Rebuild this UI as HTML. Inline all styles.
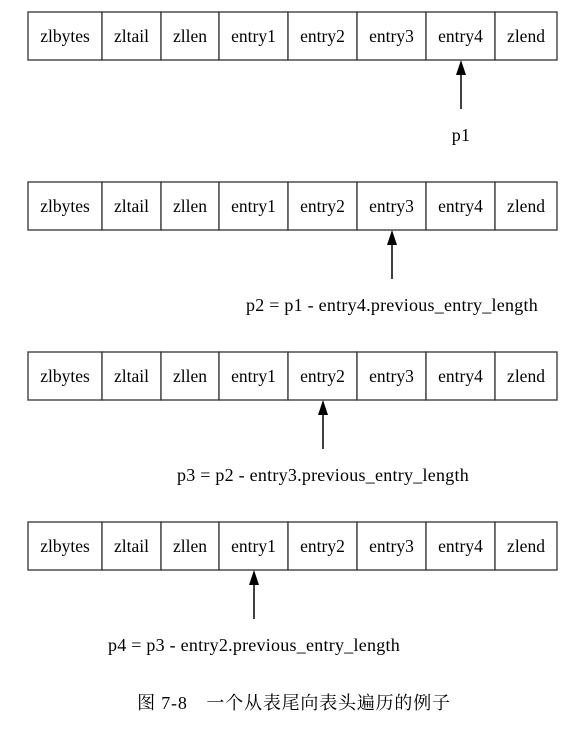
<!DOCTYPE html>
<html><head><meta charset="utf-8"><style>
html,body{margin:0;padding:0;background:#fff;}
svg{display:block;}
text{font-family:"Liberation Serif","Noto Serif CJK SC",serif;font-size:17px;fill:#000;}
</style></head><body>
<svg id="d" width="588" height="733" viewBox="0 0 588 733">
<text x="294" y="709" text-anchor="middle" style="font-size:18px;letter-spacing:0.8px">图 7-8　一个从表尾向表头遍历的例子</text>
</svg>
<script>
const labels=["zlbytes","zltail","zllen","entry1","entry2","entry3","entry4","zlend"];
const edges=[28,102,161,219,288,357,426,495,557];
const pointerIdx=[6,5,4,3];
const pointerText=["p1","p2 = p1 - entry4.previous_entry_length","p3 = p2 - entry3.previous_entry_length","p4 = p3 - entry2.previous_entry_length"];
const NS="http://www.w3.org/2000/svg";
const svg=document.getElementById('d');
function mk(t,a){const e=document.createElementNS(NS,t);for(const k in a)e.setAttribute(k,a[k]);return e;}
for(let r=0;r<4;r++){
  const y0=12+r*170,h=48;
  const g=mk('g',{});
  
  
  svg.appendChild(g);
  for(let i=0;i<labels.length;i++){
    const rc=mk('rect',{x:edges[i],y:y0,width:edges[i+1]-edges[i],height:h,fill:'#fff',stroke:'#333','stroke-width':1.3});
    
    
    g.appendChild(rc);
    const t=mk('text',{x:(edges[i]+edges[i+1])/2,y:y0+30,'text-anchor':'middle',style:'font-size:17.5px'});
    
    
    t.textContent=labels[i];g.appendChild(t);
  }
  const k=pointerIdx[r];const cx=Math.round((edges[k]+edges[k+1])/2);
  const ln=mk('line',{x1:cx,y1:y0+60,x2:cx,y2:y0+97,stroke:'#000','stroke-width':1.5});
  
  
  g.appendChild(ln);
  const hd=mk('polygon',{points:`${cx},${y0+48} ${cx-5},${y0+63} ${cx+5},${y0+63}`,fill:'#000'});
  
  
  g.appendChild(hd);
  const pt=mk('text',{x:cx,y:y0+129,'text-anchor':'middle',style:'font-size:18px;letter-spacing:0.25px'});
  
  
  pt.textContent=pointerText[r];g.appendChild(pt);
}
</script>
</body></html>
